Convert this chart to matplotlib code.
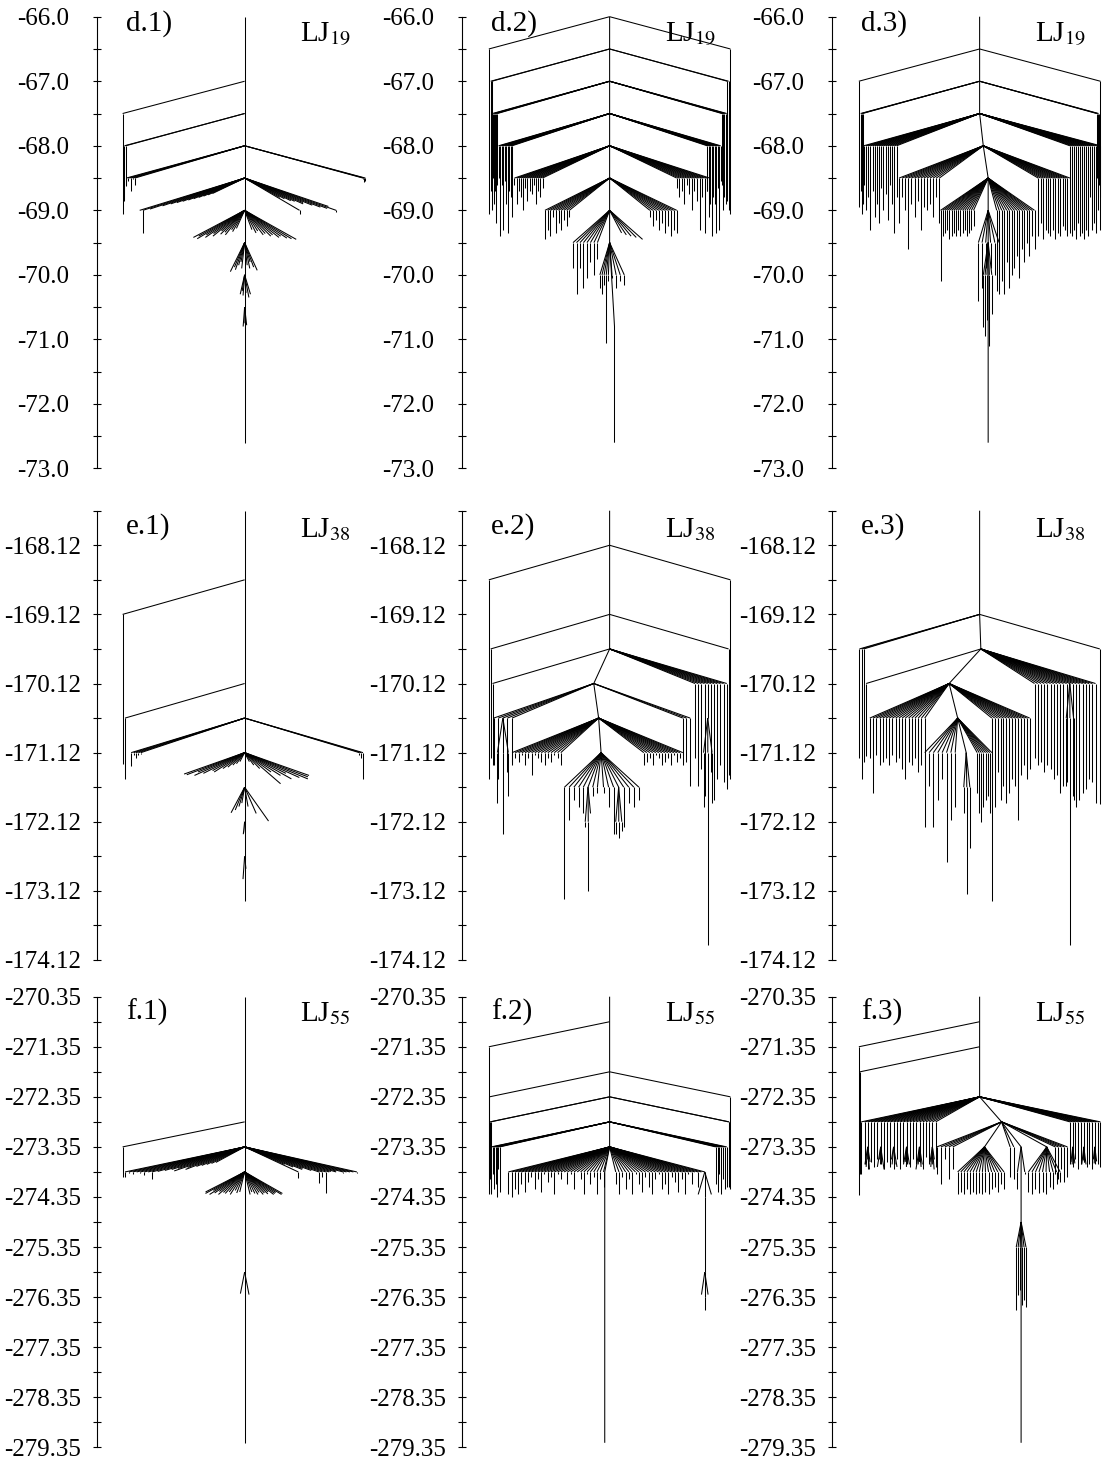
import numpy as np
import matplotlib
matplotlib.use("Agg")
import matplotlib.pyplot as plt
import matplotlib.transforms as mtransforms
from matplotlib.collections import LineCollection

plt.rcParams['font.family'] = ['Liberation Serif', 'DejaVu Serif']
plt.rcParams['mathtext.fontset'] = 'stix'
plt.rcParams['axes.unicode_minus'] = False

# energy windows of the three clusters (one row each)
row_top = [-66.0, -167.62, -270.35]
row_bottom = [-73.0, -174.12, -279.35]
row_major = [
    [-66.0, -67.0, -68.0, -69.0, -70.0, -71.0, -72.0, -73.0],
    [-168.12, -169.12, -170.12, -171.12, -172.12, -173.12, -174.12],
    [-270.35, -271.35, -272.35, -273.35, -274.35, -275.35, -276.35, -277.35, -278.35, -279.35],
]
row_fmt = ["%.1f", "%.2f", "%.2f"]
clusters = ["LJ$_{19}$", "LJ$_{38}$", "LJ$_{55}$"]

# ---------------------------------------------------------------------------
# each fan: (energy of the branching node, energies of the minima below it)
# layout of each fan: (x of the node, x of first leaf, x of last leaf)
# ---------------------------------------------------------------------------

# LJ19 (d.1)
d1_trunk_e = [-66.0, -72.6]
d1_trunk_x = [0.0, 0.0]
d1_fans = [
    (-67.0, [-69.05]),
    (-67.5, [-68.85, -68.6]),
    (-68.0, [-68.62, -68.55, -68.7, -68.52, -68.6]),
    (-68.0, [-68.52, -68.56, -68.54]),
    (-68.5, [-69.0, -69.35, -68.98, -68.93, -68.9, -68.88, -68.86, -68.84, -68.82, -68.8, -68.78, -68.76, -68.74]),
    (-68.5, [-69.05, -68.8, -68.82, -68.85, -68.86, -68.9, -68.88, -68.92, -68.95, -68.97, -69.02, -68.94]),
    (-69.0, [-69.42, -69.4, -69.44, -69.38, -69.42, -69.36, -69.4, -69.32, -69.37, -69.34, -69.38, -69.3, -69.33, -69.28]),
    (-69.0, [-69.3, -69.35, -69.32, -69.38, -69.36, -69.4, -69.38, -69.42, -69.4, -69.43, -69.44, -69.45]),
    (-69.5, [-69.95, -69.88, -69.92, -69.85, -69.8, -69.9]),
    (-69.5, [-69.85, -69.9, -69.8, -69.88, -69.93]),
    (-70.0, [-70.3, -70.25, -70.32]),
    (-70.0, [-70.28, -70.35, -70.3]),
    (-70.5, [-70.8, -70.75, -70.78]),
]
d1_layout = [
    (0.0, -1.0, -1.0), (0.0, -0.985, -0.975), (0.0, -0.97, -0.9), (0.0, 0.97, 0.99),
    (0.0, -0.86, -0.55), (0.0, 0.45, 0.78), (0.0, -0.5, -0.12), (0.0, 0.1, 0.47),
    (0.0, -0.13, -0.03), (0.0, 0.03, 0.12), (0.0, -0.06, -0.02), (0.0, 0.02, 0.08),
    (0.0, -0.02, 0.03),
]

# LJ19 (d.2)
d2_trunk_e = [-66.0, -69.5, -70.8, -72.6]
d2_trunk_x = [0.0, 0.0, 0.04, 0.04]
d2_fans = [
    (-66.0, [-69.05]),
    (-66.0, [-69.05]),
    (-66.5, [-68.7, -69.0]),
    (-66.5, [-68.85, -69.0]),
    (-67.0, [-68.5, -68.9, -68.7, -69.2, -68.6]),
    (-67.0, [-68.6, -69.0, -68.8, -68.9, -68.55]),
    (-67.5, [-68.5, -69.4, -68.6, -69.3, -68.55, -68.9, -69.35, -68.7, -68.8, -69.1]),
    (-67.5, [-68.7, -69.1, -68.6, -69.4, -68.8, -68.9, -69.35, -68.65, -69.3, -68.55]),
    (-68.0, [-68.6, -68.9, -68.7, -68.8, -69.0, -68.65, -68.85, -68.7, -68.75, -68.6, -68.9, -68.7, -68.8, -68.65]),
    (-68.0, [-68.65, -68.8, -68.7, -68.9, -68.6, -68.75, -69.0, -68.7, -68.85, -69.3, -68.8, -69.35, -68.7, -68.9]),
    (-68.5, [-69.45, -69.3, -69.4, -69.1, -69.35, -69.2, -69.3, -69.15, -69.25, -69.1]),
    (-68.5, [-69.1, -69.25, -69.15, -69.3, -69.2, -69.35, -69.25, -69.4, -69.3, -69.35]),
    (-69.0, [-69.9, -70.3, -69.9, -70.2, -70.05, -69.8, -70.0, -69.75]),
    (-69.0, [-69.45, -69.42, -69.4, -69.38, -69.35]),
    (-69.5, [-70.2, -70.3, -70.15, -71.05, -70.1]),
    (-69.5, [-70.05, -70.2, -70.1, -70.15]),
]
d2_layout = [
    (0.0, -0.99, -0.99), (0.0, 0.99, 0.99), (0.0, -0.975, -0.965), (0.0, 0.965, 0.975),
    (0.0, -0.96, -0.92), (0.0, 0.92, 0.96), (0.0, -0.91, -0.8), (0.0, 0.8, 0.91),
    (0.0, -0.78, -0.55), (0.0, 0.55, 0.82), (0.0, -0.53, -0.33), (0.0, 0.33, 0.55),
    (0.0, -0.3, -0.1), (0.0, 0.3, 0.14), (0.0, -0.08, -0.01), (0.0, 0.02, 0.12),
]

# LJ19 (d.3)
d3_trunk_e = [-66.0, -67.5, -68.0, -68.5, -72.6]
d3_trunk_x = [0.0, 0.0, 0.03, 0.07, 0.07]
d3_fans = [
    (-66.5, [-68.95]),
    (-66.5, [-68.8]),
    (-67.0, [-68.7, -69.05, -68.9]),
    (-67.0, [-68.5, -69.0, -68.6]),
    (-67.5, [-68.6, -69.0, -68.8, -69.3, -68.7, -69.1, -68.9, -69.2, -68.65, -69.0, -68.75, -69.15, -68.6, -68.9, -69.35, -68.8]),
    (-67.5, [-68.9, -69.4, -69.3, -69.45, -69.2, -69.4, -69.35, -69.45, -69.3, -69.4, -68.8, -69.3, -69.2, -69.35, -68.7, -69.3]),
    (-68.0, [-69.2, -68.8, -69.0, -69.6, -68.9, -69.1, -68.85, -69.3, -68.95, -69.0, -68.9, -69.1, -68.8, -69.2]),
    (-68.0, [-69.4, -69.2, -69.45, -69.3, -69.35, -69.4, -69.3, -69.45, -69.35, -69.4, -69.25, -69.3, -69.4, -69.35]),
    (-68.5, [-70.1, -69.4, -69.35, -69.3, -69.45, -69.4, -69.35, -69.4, -69.3, -69.4, -69.35, -69.3, -69.4, -69.35, -69.3, -69.25]),
    (-68.5, [-70.25, -70.3, -70.1, -70.3, -69.8, -70.2, -70.0, -69.9, -69.7, -70.05, -69.6, -69.8, -69.5, -69.7, -69.4, -69.6]),
    (-69.0, [-70.4, -70.2, -69.9]),
    (-69.0, [-69.9, -70.0, -69.7]),
    (-69.5, [-70.8, -70.95, -70.7]),
    (-69.5, [-71.1, -70.6]),
]
d3_layout = [
    (0.0, -0.99, -0.99), (0.0, 0.99, 0.99), (0.0, -0.975, -0.96), (0.0, 0.96, 0.975),
    (0.0, -0.95, -0.68), (0.0, 0.74, 0.99), (0.03, -0.66, -0.33), (0.03, 0.48, 0.74),
    (0.07, -0.32, -0.05), (0.07, 0.14, 0.45), (0.07, -0.01, 0.05), (0.07, 0.09, 0.16),
    (0.07, 0.03, 0.06), (0.07, 0.08, 0.1),
]

# LJ38 (e.1)
e1_trunk_e = [-167.62, -173.26]
e1_trunk_x = [0.0, 0.0]
e1_fans = [
    (-168.62, [-171.29]),
    (-170.12, [-171.5]),
    (-170.62, [-171.32, -171.15, -171.2, -171.16, -171.14]),
    (-170.62, [-171.15, -171.2, -171.5]),
    (-171.12, [-171.43, -171.44, -171.4, -171.45, -171.42, -171.38, -171.4, -171.35, -171.33, -171.3, -171.28, -171.25]),
    (-171.12, [-171.25, -171.3, -171.35, -171.57, -171.4, -171.45, -171.5, -171.42, -171.48, -171.5, -171.47, -171.45]),
    (-171.62, [-171.99, -171.95, -171.9, -171.85]),
    (-171.62, [-171.9, -172.0, -172.11]),
    (-172.12, [-172.3, -172.28]),
    (-172.62, [-172.95, -172.8]),
]
e1_layout = [
    (0.0, -1.0, -1.0), (0.0, -0.98, -0.98), (0.0, -0.93, -0.85), (0.0, 0.94, 0.97),
    (0.0, -0.8, -0.15), (0.0, 0.15, 0.8), (0.0, -0.15, -0.05), (0.0, 0.05, 0.2),
    (0.0, -0.03, 0.02), (0.0, -0.02, 0.03),
]

# LJ38 (e.2)
e2_trunk_e = [-167.62, -169.62, -170.12, -170.62, -171.12]
e2_trunk_x = [0.0, 0.0, -0.13, -0.09, -0.07]
e2_fans = [
    (-168.12, [-171.5]),
    (-168.12, [-171.5]),
    (-169.12, [-171.2]),
    (-169.12, [-171.45]),
    (-169.62, [-171.3]),
    (-169.62, [-171.2, -171.6, -171.35, -171.75, -170.62, -171.4, -171.8, -171.5, -171.3, -171.55, -171.65]),
    (-170.62, [-171.9, -173.91, -171.85]),
    (-170.12, [-171.3, -171.5, -170.62, -171.4, -171.25]),
    (-170.62, [-171.85, -172.3, -171.75]),
    (-170.12, [-171.3, -171.25, -171.6]),
    (-170.62, [-171.3, -171.2, -171.25, -171.15, -171.3, -171.2, -171.45, -171.15, -171.2, -171.25, -171.3, -171.2, -171.25, -171.15, -171.2, -171.3]),
    (-170.62, [-171.3, -171.25, -171.2, -171.3, -171.15, -171.2, -171.3, -171.25, -171.2, -171.3, -171.15, -171.25, -171.2, -171.15]),
    (-171.12, [-173.24, -172.1, -171.8, -171.9, -172.0, -171.62, -171.75, -171.7]),
    (-171.62, [-172.2, -173.12, -172.0]),
    (-171.12, [-171.7, -171.9, -172.3, -171.62, -172.2, -171.85, -171.9, -171.8]),
    (-171.62, [-172.3, -172.35, -172.25]),
]
e2_layout = [
    (0.0, -0.99, -0.99), (0.0, 0.99, 0.99), (0.0, -0.975, -0.975), (0.0, 0.975, 0.975),
    (0.0, -0.96, -0.96), (0.0, 0.7, 0.96), (0.804, 0.77, 0.84), (-0.13, -0.95, -0.8),
    (-0.875, -0.92, -0.83), (-0.13, 0.6, 0.66), (-0.09, -0.8, -0.4), (-0.09, 0.28, 0.6),
    (-0.07, -0.37, -0.1), (-0.177, -0.2, -0.15), (-0.07, -0.05, 0.24), (0.074, 0.05, 0.1),
]

# LJ38 (e.3)
e3_trunk_e = [-167.62, -169.12, -169.62, -170.12, -170.62, -171.12]
e3_trunk_x = [0.0, 0.0, 0.01, -0.25, -0.18, -0.11]
e3_fans = [
    (-169.12, [-171.2, -171.5, -171.25]),
    (-169.12, [-171.87]),
    (-169.62, [-171.17]),
    (-169.62, [-171.2, -171.3, -171.25, -171.4, -171.3, -171.35, -171.5, -171.45, -171.7, -171.6, -171.55, -170.12,
               -171.75, -171.9, -171.8, -171.7, -171.65, -171.5, -171.55, -171.85]),
    (-170.12, [-171.6, -173.91, -171.8]),
    (-170.12, [-171.2, -171.7, -171.15, -171.3, -171.25, -171.2, -171.3, -171.15, -171.25, -171.2, -171.35, -171.5,
               -171.25, -171.3, -171.2, -171.4, -171.3, -171.2]),
    (-170.12, [-171.5, -171.9, -171.4, -171.8, -171.6, -171.85, -171.7, -171.5, -171.6, -172.1, -171.45, -171.3, -171.5, -171.35]),
    (-170.62, [-172.2, -171.6, -172.2, -171.8, -171.5, -172.7, -172.1, -171.9]),
    (-170.62, [-171.7, -172.0, -172.12, -171.9, -171.8, -171.75, -172.0, -173.26]),
    (-171.12, [-172.0, -173.17, -172.5]),
]
e3_layout = [
    (0.0, -0.985, -0.95), (0.0, 0.985, 0.985), (0.01, -0.93, -0.93), (0.01, 0.45, 0.95),
    (0.739, 0.71, 0.77), (-0.25, -0.9, -0.45), (-0.25, 0.1, 0.41), (-0.18, -0.45, -0.2),
    (-0.18, -0.02, 0.1), (-0.11, -0.13, -0.08),
]

# LJ55 (f.1)
f1_trunk_e = [-270.35, -279.26]
f1_trunk_x = [0.0, 0.0]
f1_fans = [
    (-272.85, [-273.95]),
    (-273.35, [-273.95, -273.87, -273.9, -273.85, -273.88, -273.92, -273.86, -274.0, -273.84, -273.82, -273.8, -273.78,
               -273.83, -273.76, -273.8, -273.74, -273.72, -273.7, -273.68, -273.66]),
    (-273.35, [-273.98, -273.7, -273.75, -273.8, -273.78, -273.82, -274.08, -273.95, -274.28, -273.85, -273.84, -273.86,
               -273.83, -273.87, -273.85, -273.86, -273.85, -273.88]),
    (-273.85, [-274.25, -274.28, -274.22, -274.3, -274.27, -274.24, -274.3, -274.26, -274.28, -274.25, -274.3, -274.22, -274.27, -274.25]),
    (-273.85, [-274.3, -274.25, -274.28, -274.3, -274.26, -274.3, -274.27, -274.29, -274.25, -274.3, -274.28, -274.26, -274.3, -274.28]),
    (-275.85, [-276.28, -276.3]),
]
f1_layout = [
    (0.0, -1.0, -1.0), (0.0, -0.98, -0.38), (0.0, 0.44, 0.92), (0.0, -0.4, -0.05),
    (0.0, 0.05, 0.36), (0.0, -0.04, 0.04),
]

# LJ55 (f.2)
f2_trunk_e = [-270.35, -273.35, -273.85, -279.26]
f2_trunk_x = [0.0, 0.0, -0.04, -0.04]
f2_fans = [
    (-270.85, [-274.3]),
    (-271.85, [-274.1]),
    (-271.85, [-274.2]),
    (-272.35, [-274.0, -274.25]),
    (-272.35, [-274.15, -273.95]),
    (-272.85, [-274.3, -273.9, -274.2, -274.1, -274.35, -273.8, -274.25]),
    (-272.85, [-274.1, -274.25, -273.9, -274.3, -274.0, -274.2, -274.15]),
    (-273.35, [-274.3, -274.35, -274.2, -274.3, -274.1, -274.25, -274.05, -273.95, -274.2, -274.0, -274.25, -273.9,
               -274.05, -273.95, -274.3, -273.9, -274.0, -273.85, -274.1, -273.9, -274.2, -273.85, -274.0, -274.3,
               -273.9, -274.1, -273.95, -274.3, -274.0, -274.15]),
    (-273.35, [-274.1, -274.3, -273.95, -274.2, -274.0, -274.3, -273.9, -274.1, -274.25, -273.95, -274.15, -274.3,
               -274.0, -273.9, -274.2, -274.1, -274.3, -273.95, -274.05, -274.25, -274.0, -274.3, -273.9, -274.1,
               -273.85, -274.15, -273.85, -273.85]),
    (-273.85, [-274.3, -275.85, -274.3]),
    (-275.85, [-276.3, -276.6, -276.3]),
]
f2_layout = [
    (0.0, -0.99, -0.99), (0.0, -0.985, -0.985), (0.0, 0.99, 0.99), (0.0, -0.98, -0.975),
    (0.0, 0.975, 0.98), (0.0, -0.97, -0.9), (0.0, 0.87, 0.96), (0.0, -0.83, -0.05),
    (0.0, 0.05, 0.78), (0.78, 0.72, 0.84), (0.78, 0.75, 0.81),
]

# LJ55 (f.3)
f3_trunk_e = [-270.35, -272.35, -272.85, -273.35, -279.26]
f3_trunk_x = [0.0, 0.0, 0.18, 0.34, 0.34]
f3_fans = [
    (-270.85, [-274.32]),
    (-271.35, [-273.9]),
    (-272.35, [-273.9, -273.7, -273.8, -273.65, -273.75, -273.6, -273.7, -273.8, -273.65, -273.75, -273.7, -273.6,
               -273.8, -273.65, -273.7, -273.75, -273.6, -273.7, -273.65, -273.8, -273.55, -273.7, -273.6, -273.75]),
    (-272.35, [-273.7, -273.75, -273.6, -273.8, -273.7, -273.65, -273.75, -273.7, -273.8, -273.6, -273.7, -273.75]),
    (-272.85, [-273.9, -274.1, -273.6, -274.0, -273.8]),
    (-272.85, [-273.35]),
    (-273.35, [-274.3, -274.25, -274.3, -274.2, -274.3, -274.25, -274.3, -274.28, -274.3, -274.25, -274.3, -274.2,
               -274.15, -274.25, -274.1, -274.2]),
    (-272.85, [-273.95, -274.0]),
    (-272.85, [-273.35]),
    (-273.35, [-274.25, -274.3, -274.2, -274.28, -274.25, -274.3, -274.15, -274.2, -274.1, -274.05]),
    (-272.85, [-273.9, -274.0, -273.8, -274.05, -273.95]),
    (-273.35, [-274.2, -273.9]),
    (-274.85, [-276.6, -276.3, -276.2, -276.5, -276.4, -276.55]),
    # small forks hanging below the outer groups
    (-273.35, [-273.7, -273.75, -273.6, -273.8, -273.65]),
    (-273.35, [-273.75, -273.6, -273.7, -273.65, -273.8]),
    (-273.35, [-273.6, -273.7, -273.8, -273.7, -273.75]),
    (-273.35, [-273.7, -273.65, -273.75, -273.6, -273.7]),
    (-273.35, [-273.8, -273.7, -273.65, -273.75, -273.7]),
    (-273.35, [-273.65, -273.75, -273.7, -273.8, -273.6]),
    (-273.35, [-273.65, -273.7, -273.6, -273.68]),
    (-273.35, [-273.7, -273.62, -273.66, -273.7]),
    (-273.35, [-273.6, -273.68, -273.7, -273.64]),
]
f3_layout = [
    (0.0, -0.99, -0.99), (0.0, -0.98, -0.98), (0.0, -0.97, -0.36), (0.0, 0.74, 0.99),
    (0.18, -0.35, -0.22), (0.18, 0.04, 0.04), (0.04, -0.18, 0.2), (0.18, 0.25, 0.28),
    (0.18, 0.55, 0.55), (0.55, 0.4, 0.66), (0.18, 0.62, 0.72), (0.34, 0.31, 0.37),
    (0.34, 0.3, 0.38),
    (-0.917, -0.95, -0.885), (-0.811, -0.845, -0.78), (-0.705, -0.74, -0.67),
    (-0.599, -0.635, -0.565), (-0.493, -0.525, -0.46), (-0.387, -0.42, -0.355),
    (0.763, 0.74, 0.79), (0.854, 0.83, 0.88), (0.944, 0.92, 0.97),
]

panels = [
    [("d.1)", d1_trunk_e, d1_trunk_x, d1_fans, d1_layout),
     ("d.2)", d2_trunk_e, d2_trunk_x, d2_fans, d2_layout),
     ("d.3)", d3_trunk_e, d3_trunk_x, d3_fans, d3_layout)],
    [("e.1)", e1_trunk_e, e1_trunk_x, e1_fans, e1_layout),
     ("e.2)", e2_trunk_e, e2_trunk_x, e2_fans, e2_layout),
     ("e.3)", e3_trunk_e, e3_trunk_x, e3_fans, e3_layout)],
    [("f.1)", f1_trunk_e, f1_trunk_x, f1_fans, f1_layout),
     ("f.2)", f2_trunk_e, f2_trunk_x, f2_fans, f2_layout),
     ("f.3)", f3_trunk_e, f3_trunk_x, f3_fans, f3_layout)],
]

STEP = 0.5  # spacing of the energy levels


def fan_segments(x0, e0, xa, xb, mins, step=STEP):
    """Branches from a node at (x0, e0) down to the next level, then drop to each minimum."""
    e1 = e0 - step
    xs = np.linspace(xa, xb, len(mins))
    segs = []
    for x, m in zip(xs, mins):
        if m >= e1:
            # minimum lies above the next level: the branch stops on its way down
            t = (e0 - m) / step
            segs.append([(x0, e0), (x0 + (x - x0) * t, m)])
        else:
            segs.append([(x0, e0), (x, e1)])
            segs.append([(x, e1), (x, m)])
    return segs


W, H = 1103, 1473
fig = plt.figure(figsize=(W / 100, H / 100), dpi=100)

col_left = [97, 462, 832]
ax_w = 274.5
row_px = [(16.7, 468.5), (510.7, 960.0), (996.7, 1447.3)]
label_dy = [14, 23, 23]
cluster_dy = [25, 26, 24]

for r, row in enumerate(panels):
    top_px, bot_px = row_px[r]
    minors = np.arange(row_top[r], row_bottom[r] - 0.01, -STEP)
    for c, (label, trunk_e, trunk_x, fans, layout) in enumerate(row):
        ax = fig.add_axes([col_left[c] / W, 1 - bot_px / H, ax_w / W, (bot_px - top_px) / H])
        ax.set_xlim(-1.21, 1.04)
        ax.set_ylim(row_bottom[r], row_top[r])

        segs = [list(zip(trunk_x, trunk_e))]
        for (node_e, mins), (node_x, xa, xb) in zip(fans, layout):
            segs += fan_segments(node_x, node_e, xa, xb, mins)
        ax.add_collection(LineCollection(segs, colors='black', linewidths=0.75,
                                         clip_on=False, capstyle='butt'))

        for side in ('top', 'right', 'bottom'):
            ax.spines[side].set_visible(False)
        ax.spines['left'].set_linewidth(0.8)
        ax.set_xticks([])
        ax.set_yticks(row_major[r], [row_fmt[r] % v for v in row_major[r]], ha='center')
        ax.set_yticks(minors, minor=True)
        ax.tick_params(axis='y', which='both', direction='inout', length=6, width=0.8,
                       labelsize=18, pad=36)
        ax.patch.set_visible(False)

        tr = mtransforms.offset_copy(ax.transAxes, fig=fig, x=0, y=-label_dy[r], units='dots')
        ax.text(0.105, 1.0, label, transform=tr, fontsize=21, va='baseline', ha='left')
        tr2 = mtransforms.offset_copy(ax.transAxes, fig=fig, x=0, y=-cluster_dy[r], units='dots')
        ax.text(0.74, 1.0, clusters[r], transform=tr2, fontsize=21, va='baseline', ha='left')

fig.savefig('out.png', dpi=100)
